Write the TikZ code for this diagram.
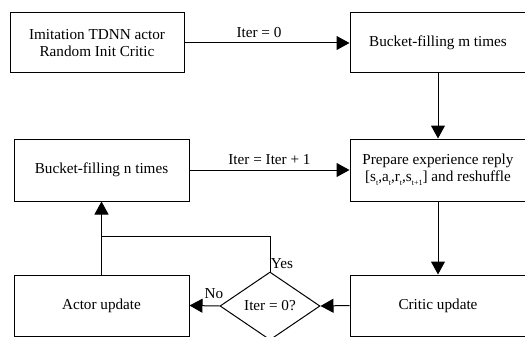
\documentclass[tikz,border=0pt]{standalone}
\usepackage{fontspec}
\setmainfont{Liberation Serif}
\usetikzlibrary{arrows.meta,shapes.geometric}
% small, low index used in the experience tuple
\newcommand\lowidx[1]{\raisebox{-4pt}{\fontsize{8}{8}\selectfont #1}}
\tikzset{
  box/.style={draw, line width=1pt, rectangle, inner sep=0pt, align=center,
    font=\fontsize{15.2}{17}\selectfont},
  decision/.style={draw, line width=1pt, diamond, inner sep=0pt,
    minimum width=100pt, minimum height=68pt, aspect=1.47,
    font=\fontsize{15.2}{17}\selectfont},
  link/.style={line width=1pt},
  arr/.style={link, -{Triangle[length=13pt,width=14pt]}},
  lbl/.style={inner sep=0pt, font=\fontsize{15.2}{17}\selectfont}
}
\begin{document}
\begin{tikzpicture}[x=1pt,y=-1pt]
  \useasboundingbox (0,0) rectangle (525,337);
  \clip (0,0) rectangle (525,337);
  \fill[white] (0,0) rectangle (525,337);

  % process boxes
  \node[box, minimum width=174pt, minimum height=60pt] (init) at (97,43)
    {Imitation TDNN actor\\Random Init Critic};
  \node[box, minimum width=176pt, minimum height=60pt] (bm) at (438,43)
    {Bucket-filling m times};
  \node[box, minimum width=175pt, minimum height=62pt] (bn) at (101.5,170)
    {Bucket-filling n times};
  \node[box, minimum width=176pt, minimum height=62pt] (prep) at (438,170)
    {Prepare experience reply\\{}[s\lowidx{t},a\lowidx{t},r\lowidx{t},s\lowidx{t+1}] and reshuffle};
  \node[box, minimum width=175pt, minimum height=61pt] (actor) at (101.5,305.5)
    {Actor update};
  \node[box, minimum width=176pt, minimum height=61pt] (critic) at (438,305.5)
    {Critic update};
  \node[decision] (dec) at (270,306) {Iter = 0?};

  % connectors
  \draw[arr] (init.east) -- node[lbl, above=5pt, xshift=-8pt] {Iter = 0} (bm.west);
  \draw[arr] (bm.south) -- (prep.north);
  \draw[arr] (bn.east) -- node[lbl, above=5pt] {Iter = Iter + 1} (prep.west);
  \draw[arr] (prep.south) -- (critic.north);
  \draw[arr] (critic.west) -- (dec.east);
  \draw[arr] (dec.west) -- (actor.east);
  \coordinate (turn) at (270,236);
  \draw[arr] (dec.north) -- (turn) -| (bn.south);
  \draw[link] (actor.north) -- (actor.north |- turn);

  % branch labels
  \node[lbl] (yes) at (282,264) {Yes};
  \node[lbl] (no) at (214,294) {No};
\end{tikzpicture}
\end{document}
